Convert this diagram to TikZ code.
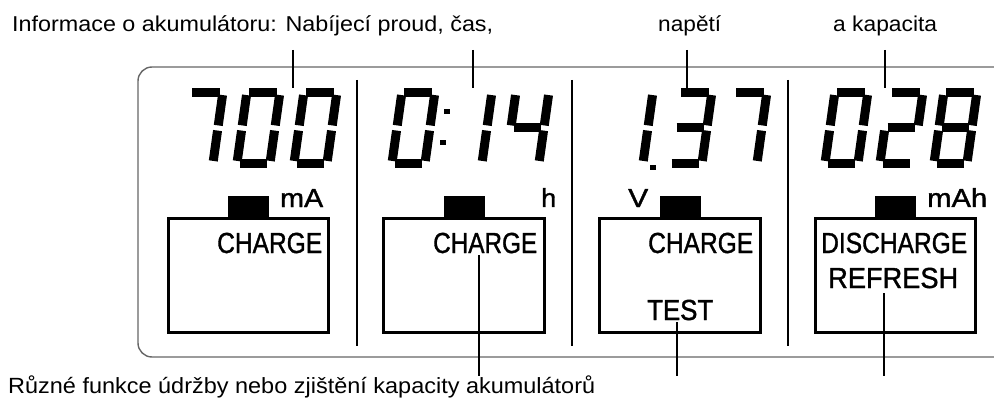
\documentclass[tikz,border=0pt]{standalone}
\usepackage{fontspec}
\setmainfont{Liberation Sans}
\newfontfamily\lcdfont{Liberation Sans}[FakeBold=1.3]
\usepackage{graphicx}
\newcommand\dZero{TL/TR,TR/MR,MR/BR,BL/BR,ML/BL,TL/ML}
\newcommand\dOne{TR/MR,MR/BR}
\newcommand\dTwo{TL/TR,TR/MR,ML/MR,ML/BL,BL/BR}
\newcommand\dThree{TL/TR,TR/MR,ML/MR,MR/BR,BL/BR}
\newcommand\dFour{TL/ML,ML/MR,TR/MR,MR/BR}
\newcommand\dSeven{TL/TR,TR/MR,MR/BR}
\newcommand\dEight{TL/TR,TR/MR,MR/BR,BL/BR,ML/BL,TL/ML,ML/MR}
\newcommand\lcd[2]{%
  \begin{scope}[shift={(#1,88)}, xslant=0.14]
    \coordinate (TL) at (4.5,4.5);  \coordinate (TR) at (37.5,4.5);
    \coordinate (ML) at (4.5,40); \coordinate (MR) at (37.5,40);
    \coordinate (BL) at (4.5,75.5); \coordinate (BR) at (37.5,75.5);
    \foreach \p/\q in #2 {\draw[seg] (\p) -- (\q);}
  \end{scope}}
\begin{document}
\begin{tikzpicture}[x=1pt,y=-1pt,
  seg/.style={line width=9pt, shorten >=2.6pt, shorten <=2.6pt},
  frame/.style={draw=black!60, line width=1.4pt, rounded corners=14pt},
  sepline/.style={line width=2.6pt},
  batt/.style={draw, line width=3.2pt, inner sep=0pt},
  term/.style={fill=black, inner sep=0pt, minimum width=41pt, minimum height=21pt},
  lead/.style={line width=2pt},
  txt/.style={inner sep=0pt, anchor=base west, font=\fontsize{21.5}{24}\selectfont},
  btxt/.style={inner sep=0pt, anchor=base west, font=\fontsize{22}{24}\selectfont},
  lbl/.style={inner sep=0pt, anchor=base west, font=\lcdfont\fontsize{29}{30}\selectfont},
  unit/.style={inner sep=0pt, anchor=base west, font=\lcdfont\fontsize{26}{28}\selectfont},
]
\useasboundingbox (0,0) rectangle (994,401);

% display frame
\draw[frame] (994,67) -- (138,67) -- (138,357) -- (994,357);

% separators
\draw[sepline] (357,80) -- (357,346);
\draw[sepline] (572,80) -- (572,346);
\draw[sepline] (788,80) -- (788,346);

% digits
\lcd{186}{\dSeven}\lcd{243}{\dZero}\lcd{300}{\dZero}
\lcd{398}{\dZero}\lcd{455}{\dOne}\lcd{512}{\dFour}
\lcd{616}{\dOne}\lcd{675}{\dThree}\lcd{730}{\dSeven}
\lcd{831}{\dZero}\lcd{886}{\dTwo}\lcd{940}{\dEight}
\fill (444,109) rectangle (450,114);
\fill (440,140) rectangle (446,145);
\fill (650,165) rectangle (656,170);

% batteries
\node[batt, minimum width=160pt, minimum height=114pt] (b1) at (248.5,275.5) {};
\node[batt, minimum width=161pt, minimum height=114pt] (b2) at (464,275.5) {};
\node[batt, minimum width=161pt, minimum height=114pt] (b3) at (680,275.5) {};
\node[batt, minimum width=160pt, minimum height=114pt] (b4) at (895.5,275.5) {};
\node[term] (p1) at (248.5,206.5) {};
\node[term] (p2) at (464,206.5) {};
\node[term] (p3) at (680.5,206.5) {};
\node[term] (p4) at (895,206.5) {};

% units
\node[unit] (u1) at (280,207) {\resizebox{43pt}{\height}{mA}};
\node[unit] (u2) at (541,207) {\resizebox{15pt}{\height}{h}};
\node[unit] (u3) at (628,207) {\resizebox{20pt}{\height}{V}};
\node[unit] (u4) at (927,207) {\resizebox{60pt}{\height}{mAh}};

% labels in batteries
\node[lbl] (c1) at (217,253) {\resizebox{105pt}{\height}{CHARGE}};
\node[lbl] (c2) at (433,253) {\resizebox{104pt}{\height}{CHARGE}};
\node[lbl] (c3) at (648,253) {\resizebox{105pt}{\height}{CHARGE}};
\node[lbl] (t3) at (647,320) {\resizebox{66pt}{\height}{TEST}};
\node[lbl] (d4) at (821,253) {\resizebox{146pt}{\height}{DISCHARGE}};
\node[lbl] (r4) at (828,288) {\resizebox{130pt}{\height}{REFRESH}};

% top texts
\node[txt] (info) at (12,32) {\resizebox{481pt}{\height}{Informace o akumulátoru: Nabíjecí proud, čas,}};
\node[txt] (nap) at (658,32) {\resizebox{63pt}{\height}{napětí}};
\node[txt] (kap) at (833,32) {\resizebox{104pt}{\height}{a kapacita}};

% bottom text
\node[btxt] (fun) at (8,393) {\resizebox{587pt}{\height}{Různé funkce údržby nebo zjištění kapacity akumulátorů}};

% top leaders
\coordinate (a1) at (293,50); \coordinate (a1e) at (293,88);
\coordinate (a2) at (473,50); \coordinate (a2e) at (473,88);
\coordinate (a3) at (687,50); \coordinate (a3e) at (687,88);
\coordinate (a4) at (885,50); \coordinate (a4e) at (885,88);
\draw[lead] (a1) -- (a1e);
\draw[lead] (a2) -- (a2e);
\draw[lead] (a3) -- (a3e);
\draw[lead] (a4) -- (a4e);

% bottom leaders
\coordinate (e2) at (479,376); \coordinate (e3) at (677,376); \coordinate (e4) at (884,376);
\draw[lead] (c2.south -| e2) ++(0,2) -- (e2);
\draw[lead] (677,322) -- (e3);
\draw[lead] (r4.south -| e4) ++(0,5) -- (e4);
\end{tikzpicture}
\end{document}
